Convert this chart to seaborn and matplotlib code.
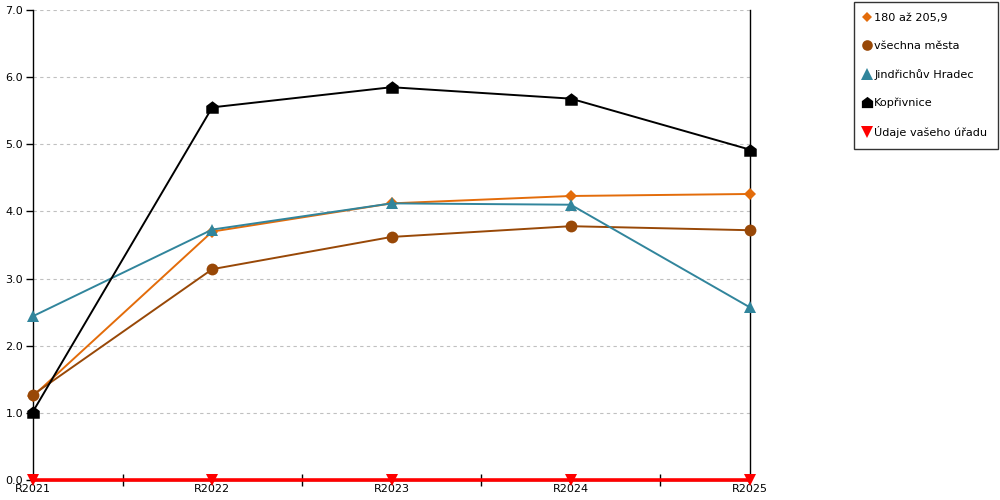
import matplotlib
matplotlib.use("Agg")
import matplotlib.pyplot as plt
import seaborn as sns
import pandas as pd
from matplotlib.path import Path
from matplotlib.lines import Line2D

years = ["R2021", "R2022", "R2023", "R2024", "R2025"]
series_names = ["180 až 205,9", "všechna města", "Jindřichův Hradec", "Kopřivnice", "Údaje vašeho úřadu"]
v_180 = [1.25, 3.70, 4.12, 4.23, 4.26]
v_vsechna = [1.27, 3.14, 3.62, 3.78, 3.72]
v_jh = [2.44, 3.73, 4.12, 4.10, 2.57]
v_kop = [1.02, 5.55, 5.85, 5.68, 4.92]
v_urad = [0.0, 0.0, 0.0, 0.0, 0.0]
y_ticks = [0, 1, 2, 3, 4, 5, 6, 7]

house = Path([(-1, -1), (1, -1), (1, 0.25), (0, 1), (-1, 0.25), (-1, -1)],
             [Path.MOVETO, Path.LINETO, Path.LINETO, Path.LINETO, Path.LINETO, Path.CLOSEPOLY])

colors = ["#E36C0A", "#984807", "#31859C", "#000000", "#FF0000"]
markers = ["D", "o", "^", house, "v"]
msizes = [6, 8.5, 9, 9, 9]
lws = [1.4, 1.4, 1.4, 1.4, 2.6]
values = [v_180, v_vsechna, v_jh, v_kop, v_urad]

sns.set_theme(style="white")
plt.rcParams['font.family'] = ['DejaVu Sans']
plt.rcParams['text.color'] = 'black'
plt.rcParams['xtick.color'] = 'black'
plt.rcParams['ytick.color'] = 'black'

fig = plt.figure(figsize=(10, 5), dpi=100)
ax = fig.add_axes([0.033, 0.04, 0.717, 0.94])

for i in range(5):
    df = pd.DataFrame({"x": list(range(len(years))), "y": values[i]})
    sns.lineplot(data=df, x="x", y="y", ax=ax, color=colors[i], lw=lws[i],
                 marker=markers[i], markersize=msizes[i], markeredgewidth=0,
                 markeredgecolor=colors[i], clip_on=False, zorder=3 + i)

ax.set_xlim(0, 4)
ax.set_ylim(0, 7)
ax.set_xlabel("")
ax.set_ylabel("")
ax.set_xticks(range(len(years)))
ax.set_xticklabels(years, fontsize=8, color="black")
ax.set_xticks([0.5, 1.5, 2.5, 3.5], minor=True)
ax.tick_params(axis="x", which="major", length=0, pad=3)
ax.tick_params(axis="x", which="minor", length=8, width=1, direction="inout", color="black", bottom=True)
ax.set_yticks(y_ticks)
ax.set_yticklabels([f"{t:.1f}" for t in y_ticks], fontsize=8, color="black")
ax.tick_params(axis="y", which="major", length=5, width=1, direction="out", color="black", pad=2, left=True)
ax.yaxis.grid(True, linestyle=(0, (3, 3)), color="#c0c0c0", lw=0.8)
ax.xaxis.grid(False)
for s in ["left", "right", "bottom"]:
    ax.spines[s].set_visible(True)
    ax.spines[s].set_color("black")
    ax.spines[s].set_linewidth(1)
ax.spines["top"].set_visible(False)

handles = [Line2D([], [], linestyle="none", marker=markers[i], color=colors[i],
                  markersize=msizes[i] * 0.9, markeredgewidth=0) for i in range(5)]
leg = fig.legend(handles, series_names, loc="upper left", bbox_to_anchor=(0.854, 0.996),
                 fontsize=8.1, frameon=True, fancybox=False, handlelength=0.4,
                 handletextpad=0.45, labelspacing=1.6, borderpad=0.95, borderaxespad=0)
leg.get_frame().set_edgecolor("black")
leg.get_frame().set_linewidth(1)
for t in leg.get_texts():
    t.set_color("black")

fig.savefig("out.png", dpi=100)
